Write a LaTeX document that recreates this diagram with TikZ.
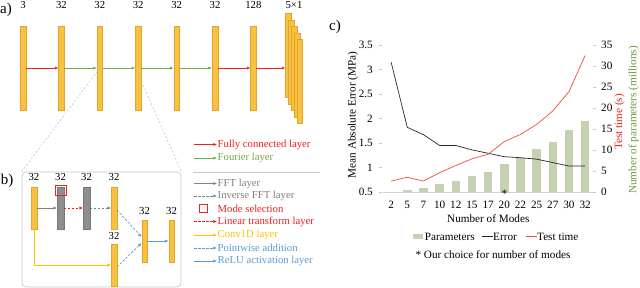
\documentclass[tikz,border=0pt]{standalone}
\usepackage{fontspec}
\setmainfont{Liberation Serif}
\usetikzlibrary{arrows.meta, positioning}
\usepackage{xcolor}

\definecolor{barFill}{HTML}{F8C240}
\definecolor{barEdge}{HTML}{E3A42B}
\definecolor{grayFill}{HTML}{8E8E8E}
\definecolor{grayEdge}{HTML}{787878}
\definecolor{fcRed}{HTML}{F0201C}
\definecolor{fourGreen}{HTML}{70AD47}
\definecolor{fftGray}{HTML}{808080}
\definecolor{convGold}{HTML}{FFC000}
\definecolor{pwBlue}{HTML}{5B9BD5}
\definecolor{parGreen}{HTML}{C4D1B2}
\definecolor{timeRed}{HTML}{EE4B3E}
\definecolor{titleGreen}{HTML}{6A9A3C}

\begin{document}
\begin{tikzpicture}[
    x=1pt,
    y=-1pt,
    >=Latex,
    every node/.style={font=\fontsize{10.7}{12}\selectfont, inner sep=0.5pt},
    ticklab/.style={font=\fontsize{11.2}{13}\selectfont},
    bar/.style={rectangle, draw=barEdge, fill=barFill, line width=0.4pt, minimum width=5.5pt, minimum height=84pt, inner sep=0pt},
    sbar/.style={bar, minimum height=42pt},
    gbar/.style={sbar, draw=grayEdge, fill=grayFill, minimum width=6.5pt},
    panel/.style={font=\fontsize{15}{17}\selectfont},
    tip/.style={-{Latex[length=3.6pt,width=3.2pt]}, line width=0.7pt},
    fc/.style={tip, fcRed},
    four/.style={tip, fourGreen},
    fft/.style={tip, fftGray},
    ifft/.style={tip, fftGray, dashed, dash pattern=on 2.5pt off 1.5pt},
    lin/.style={tip, fcRed, dashed, dash pattern=on 2.5pt off 1.5pt},
    conv/.style={tip, convGold},
    pw/.style={tip, pwBlue, dashed, dash pattern=on 2.5pt off 1.5pt},
    relu/.style={tip, pwBlue},
    modesq/.style={rectangle, draw=fcRed, line width=0.8pt, inner sep=0pt},
    zoomline/.style={gray!55, line width=0.5pt, dashed, dash pattern=on 2pt off 2pt},
    boxb/.style={rectangle, draw=gray!45, line width=0.7pt, rounded corners=4pt, minimum width=159pt, minimum height=115pt, inner sep=0pt},
    sepline/.style={gray!45, line width=0.6pt},
    errline/.style={black!85, line width=0.7pt},
    timeline/.style={timeRed, line width=0.7pt},
    parbar/.style={fill=parGreen},
    axisline/.style={gray!35, line width=0.6pt},
    tickmark/.style={gray!45, line width=0.5pt}
]
\useasboundingbox (0,0) rectangle (640,288);

% a) network
\node[panel] (pa) at (6,10) {a)};
\node[bar] (a1) at (23,68) {};
\node[bar] (a2) at (61.4,68) {};
\node[bar] (a3) at (99.8,68) {};
\node[bar] (a4) at (138.2,68) {};
\node[bar] (a5) at (176.6,68) {};
\node[bar] (a6) at (215,68) {};
\node[bar] (a7) at (253.4,68) {};
\node[bar] (s1) at (288.3,55.5) {};
\node[bar] (s2) at (291.2,62) {};
\node[bar] (s3) at (294.1,68.5) {};
\node[bar] (s4) at (297,75) {};
\node[bar] (s5) at (299.9,81.5) {};

\node (na1) at (23,5) {3};
\node (na2) at (61.4,5) {32};
\node (na3) at (99.8,5) {32};
\node (na4) at (138.2,5) {32};
\node (na5) at (176.6,5) {32};
\node (na6) at (215,5) {32};
\node (na7) at (253.4,5) {128};
\node (ns) at (294,5) {5×1};

\draw[fc] (a1) -- (a2);
\draw[four] (a2) -- (a3);
\draw[four] (a3) -- (a4);
\draw[four] (a4) -- (a5);
\draw[four] (a5) -- (a6);
\draw[fc] (a6) -- (a7);
\draw[fc] (a7) -- (a7 -| s1.west);

% b) Fourier layer
\node[panel] (pb) at (7,181) {b)};
\node[boxb] (box) at (101.5,229.5) {};
\draw[zoomline] (a3.center) -- (box.north west);
\draw[zoomline] ([yshift=-6pt]a4.center) -- (box.north east);

\node[sbar] (b1) at (34,208) {};
\node[gbar] (b2) at (60.5,208) {};
\node[modesq, minimum width=11pt, minimum height=10pt] (ms) at (60.5,190.5) {};
\node[gbar] (b3) at (86.5,208) {};
\node[sbar] (b4) at (114,208) {};
\node[sbar] (b5) at (114,265) {};
\node[sbar] (b6) at (144.5,241) {};
\node[sbar] (b7) at (171.5,241) {};

\node (nb1) at (34,177) {32};
\node (nb2) at (60.5,177) {32};
\node (nb3) at (86.5,177) {32};
\node (nb4) at (114,177) {32};
\node (nb5) at (114,236) {32};
\node (nb6) at (144.5,211) {32};
\node (nb7) at (171.5,211) {32};

\draw[fft] (b1) -- (b2);
\draw[lin] (b2) -- (b3);
\draw[ifft] (b3) -- (b4);
\draw[conv] (b1.south) |- (b5.west);
\draw[pw] ([yshift=-2pt]b4.east) -- ([yshift=4pt]b6.west);
\draw[pw] ([yshift=-2pt]b5.east) -- ([yshift=-2pt]b6.west);
\draw[relu] (b6) -- (b7);

% legend
\node[anchor=west, text=fcRed] (lfc) at (217,144.5) {Fully connected layer};
\node[anchor=west, text=fourGreen] (lfour) at (217,158) {Fourier layer};
\draw[sepline] (193,172) -- (320,172);
\node[anchor=west, text=fftGray] (lfft) at (217,183.5) {FFT layer};
\node[anchor=west, text=fftGray] (lifft) at (217,196) {Inverse FFT layer};
\node[modesq, minimum width=8pt, minimum height=8pt] (lsq) at (203.5,208.5) {};
\node[anchor=west, text=fcRed] (lms) at (217,208.5) {Mode selection};
\node[anchor=west, text=fcRed] (llin) at (217,221.5) {Linear transform layer};
\node[anchor=west, text=convGold] (lconv) at (217,235) {Conv1D layer};
\node[anchor=west, text=pwBlue] (lpw) at (217,248) {Pointwise addition};
\node[anchor=west, text=pwBlue] (lrelu) at (217,261) {ReLU activation layer};

\draw[fc] ([xshift=-23pt]lfc.west) -- (lfc.west);
\draw[four] ([xshift=-23pt]lfour.west) -- (lfour.west);
\draw[fft] ([xshift=-23pt]lfft.west) -- (lfft.west);
\draw[ifft] ([xshift=-23pt]lifft.west) -- (lifft.west);
\draw[lin] ([xshift=-23pt]llin.west) -- (llin.west);
\draw[conv] ([xshift=-23pt]lconv.west) -- (lconv.west);
\draw[pw] ([xshift=-23pt]lpw.west) -- (lpw.west);
\draw[relu] ([xshift=-23pt]lrelu.west) -- (lrelu.west);

% c) chart
\node[panel] (pc) at (335,27) {c)};
\begin{scope}[shift={(391.1,192)}, x=16.17pt, y=4.2pt]
  \foreach \v [count=\k from 0] in {0.1,0.5,1.0,1.8,2.5,3.8,4.8,6.7,8.0,10.2,12.0,14.8,16.9}
    \fill[parbar] (\k-0.263,0) rectangle (\k+0.263,\v);
\end{scope}
\draw[axisline] (383,192) -- (593,192);
\foreach \v [count=\k] in {0.5,1,1.5,2,2.5,3,3.5} {
  \draw[tickmark] (379,{216.5-49*\v}) -- (382,{216.5-49*\v});
  \node[ticklab, anchor=east] (yl\k) at (373.5,{216.5-49*\v}) {\v};
}
\foreach \v [count=\k] in {0,5,10,15,20,25,30,35} {
  \draw[tickmark] (593,{192-4.2*\v}) -- (596,{192-4.2*\v});
  \node[ticklab, anchor=west] (yr\k) at (600.5,{192-4.2*\v}) {\v};
}
\foreach \m [count=\k from 0] in {2,5,7,10,12,15,17,20,22,25,27,30,32}
  \node[ticklab] (xl\k) at ({391.1+16.17*\k},205) {\m};

\begin{scope}[shift={(391.1,216.5)}, x=16.17pt, y=49pt]
  \draw[errline] plot coordinates {(0,3.15) (1,1.82) (2,1.67) (3,1.45) (4,1.45) (5,1.36) (6,1.29) (7,1.22) (8,1.20) (9,1.17) (10,1.10) (11,1.03) (12,1.03)};
\end{scope}
\begin{scope}[shift={(391.1,192)}, x=16.17pt, y=4.2pt]
  \draw[timeline] plot coordinates {(0,2.6) (1,3.5) (2,2.6) (3,4.6) (4,6.3) (5,7.9) (6,9.0) (7,12.0) (8,13.7) (9,16.1) (10,19.3) (11,23.9) (12,32.5)};
\end{scope}
\node[ticklab] (star) at (504.3,193.5) {*};

\node[ticklab, rotate=90] (ytl) at (353,115) {Mean Absolute Error (MPa)};
\node[ticklab, rotate=90, text=fcRed] (ytr) at (619.5,122) {Test time (s)};
\node[ticklab, rotate=90, text=titleGreen] (ypr) at (633.5,120) {Number of parameters (millions)};
\node[ticklab] (xt) at (488.3,218.3) {Number of Modes};

\node[rectangle, parbar, minimum width=9.4pt, minimum height=5pt, inner sep=0pt] (kpar) at (418,236.7) {};
\node[ticklab, right=1.3pt of kpar] (tpar) {Parameters};
\node[ticklab, anchor=west] (terr) at (492.5,236.7) {Error};
\node[ticklab, anchor=west] (ttime) at (536.5,236.7) {Test time};
\draw[errline] ([xshift=-10.5pt]terr.west) -- (terr.west);
\draw[timeline] ([xshift=-10.5pt]ttime.west) -- (ttime.west);
\node[ticklab] (note) at (493,254.3) {* Our choice for number of modes};
\end{tikzpicture}
\end{document}
